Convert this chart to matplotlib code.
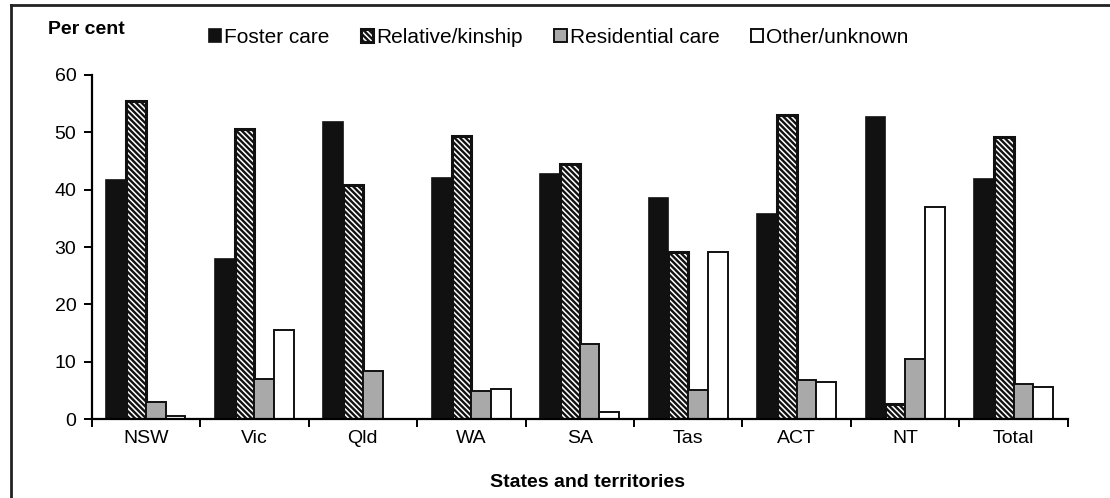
import matplotlib
matplotlib.use('Agg')
import matplotlib.pyplot as plt
import numpy as np
from matplotlib.lines import Line2D

plt.rcParams['font.family'] = ['Liberation Sans', 'DejaVu Sans']
plt.rcParams['hatch.linewidth'] = 1.7

states = ['NSW', 'Vic', 'Qld', 'WA', 'SA', 'Tas', 'ACT', 'NT', 'Total']

foster = [41.6, 27.9, 51.8, 42.1, 42.7, 38.5, 35.8, 52.6, 41.8]
relative = [55.5, 50.6, 40.8, 49.3, 44.5, 29.2, 53.1, 2.7, 49.2]
residential = [2.9, 6.9, 8.4, 4.8, 13.1, 5.1, 6.8, 10.5, 6.1]
other = [0.6, 15.6, 0.0, 5.3, 1.2, 29.2, 6.5, 37.0, 5.5]

series = [
    ('Foster care', foster, dict(color='#111111', edgecolor='#111111', linewidth=1.2)),
    ('Relative/kinship', relative, dict(color='white', edgecolor='#111111',
                                        hatch='\\' * 6, linewidth=2.2)),
    ('Residential care', residential, dict(color='#a9a9a9', edgecolor='#111111', linewidth=1.4)),
    ('Other/unknown', other, dict(color='white', edgecolor='#111111', linewidth=1.4)),
]

fig = plt.figure(figsize=(11.1, 4.98), dpi=100)
ax = fig.add_axes([0.0826, 0.1586, 0.8794, 0.6908])

x = np.arange(len(states))
width = 0.182
handles = []
for i, (name, vals, style) in enumerate(series):
    b = ax.bar(x + (i - 1.5) * width, vals, width, label=name, **style)
    handles.append(b)

ax.set_xlim(-0.5, len(states) - 0.5)
ax.set_ylim(0, 60)
ax.set_yticks(range(0, 61, 10))
ax.set_xticks(x)
ax.set_xticklabels(states)
ax.set_xticks(np.arange(-0.5, len(states), 1), minor=True)
ax.tick_params(axis='x', which='major', length=0, pad=8, labelsize=14)
ax.tick_params(axis='x', which='minor', length=6, width=1.4, direction='out')
ax.tick_params(axis='y', length=6, width=1.4, labelsize=14, pad=5)

for side in ['top', 'right']:
    ax.spines[side].set_visible(False)
for side in ['left', 'bottom']:
    ax.spines[side].set_linewidth(1.6)

fig.text(0.043, 0.94, 'Per cent', fontsize=14, fontweight='bold', va='center')
fig.text(0.529, 0.032, 'States and territories', fontsize=14, fontweight='bold',
         ha='center', va='center')

fig.legend(handles=handles, loc='center left', bbox_to_anchor=(0.171, 0.925),
           ncol=4, frameon=False, fontsize=15, handlelength=0.6, handleheight=0.6,
           handletextpad=0.15, columnspacing=1.5)

# border along the top and left of the figure
fig.add_artist(Line2D([0.0099, 1.0], [0.99, 0.99], transform=fig.transFigure,
                      color='#222222', linewidth=2.0))
fig.add_artist(Line2D([0.0099, 0.0099], [0.0, 0.99], transform=fig.transFigure,
                      color='#222222', linewidth=2.0))

fig.savefig('out.png', dpi=100)
